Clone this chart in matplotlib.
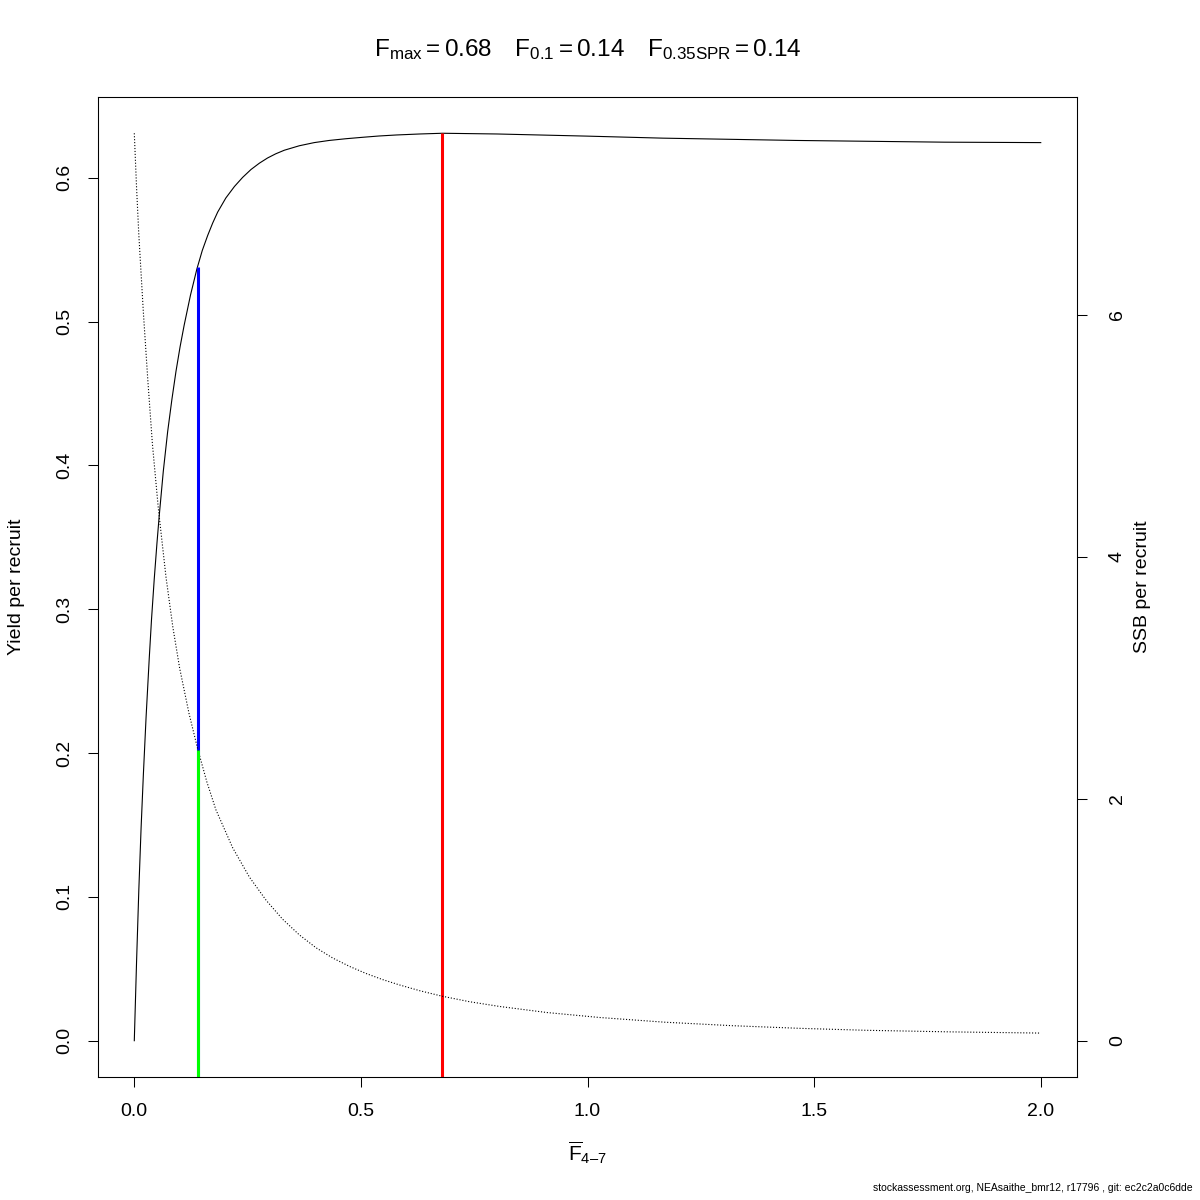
import numpy as np
import matplotlib
matplotlib.use("Agg")
import matplotlib.pyplot as plt

plt.rcParams['font.family'] = ['Liberation Sans', 'DejaVu Sans']
plt.rcParams['mathtext.fontset'] = 'custom'
plt.rcParams['mathtext.rm'] = 'Liberation Sans'
plt.rcParams['mathtext.it'] = 'Liberation Sans:italic'

# yield per recruit curve
f_ypr = [0.000, 0.005, 0.010, 0.015, 0.020, 0.026, 0.033, 0.038, 0.044, 0.050,
         0.055, 0.064, 0.0736, 0.083, 0.092, 0.101, 0.110, 0.124, 0.138, 0.150,
         0.162, 0.173, 0.184, 0.202, 0.221, 0.239, 0.2575, 0.276, 0.294, 0.312,
         0.331, 0.364, 0.397, 0.430, 0.467, 0.504, 0.540, 0.578, 0.630, 0.680,
         0.800, 1.000, 1.166, 1.460, 1.788, 2.000]
ypr = [0.000, 0.055, 0.105, 0.148, 0.185, 0.225, 0.266, 0.293, 0.321, 0.346,
       0.365, 0.396, 0.4235, 0.446, 0.4655, 0.4825, 0.4975, 0.5185, 0.5365, 0.5495,
       0.5600, 0.5686, 0.5762, 0.5860, 0.5940, 0.6003, 0.6058, 0.6102, 0.6138, 0.6167,
       0.6192, 0.6223, 0.6245, 0.6260, 0.6272, 0.6282, 0.6291, 0.6298, 0.6305, 0.6310,
       0.6305, 0.6290, 0.6276, 0.6260, 0.6248, 0.6245]

# SSB per recruit curve
f_spr = [0.000, 0.005, 0.010, 0.020, 0.030, 0.040, 0.053, 0.070, 0.085, 0.100,
         0.121, 0.140, 0.160, 0.180, 0.217, 0.254, 0.291, 0.327, 0.364, 0.401,
         0.438, 0.475, 0.511, 0.548, 0.585, 0.630, 0.679, 0.740, 0.806, 0.910,
         1.026, 1.170, 1.320, 1.470, 1.615, 1.800, 2.000]
spr = [7.50, 7.05, 6.66, 6.02, 5.45, 4.93, 4.40, 3.83, 3.42, 3.08,
       2.70, 2.41, 2.14, 1.909, 1.595, 1.352, 1.160, 1.005, 0.875, 0.768,
       0.683, 0.614, 0.556, 0.505, 0.461, 0.413, 0.368, 0.322, 0.283, 0.233,
       0.192, 0.153, 0.124, 0.102, 0.086, 0.073, 0.063]

# reference points
fmax, ypr_fmax = 0.68, 0.631
f01, ypr_f01 = 0.14, 0.538
f35, spr_f35 = 0.14, 2.40

title = (r"$\mathrm{F_{max}=0.68}\quad\,\mathrm{F_{0.1}=0.14}\quad\,"
         r"\mathrm{F_{0.35SPR}=0.14}$")
footer = "stockassessment.org, NEAsaithe_bmr12, r17796 , git: ec2c2a0c6dde"


def r_lim(v):
    lo, hi = min(v), max(v)
    pad = 0.04 * (hi - lo)
    return lo - pad, hi + pad


fig = plt.figure(figsize=(12, 12), dpi=100)
ax = fig.add_axes([0.0817, 0.1025, 0.8158, 0.8167])
ax.plot(f_ypr, ypr, color='black', lw=0.8)
ax.set_xlim(*r_lim(f_ypr))
ax.set_ylim(*r_lim(ypr))
ax.set_xticks([0.0, 0.5, 1.0, 1.5, 2.0])
ax.set_xticklabels(['0.0', '0.5', '1.0', '1.5', '2.0'])
ax.set_yticks([0.0, 0.1, 0.2, 0.3, 0.4, 0.5, 0.6])
ax.set_yticklabels(['0.0', '0.1', '0.2', '0.3', '0.4', '0.5', '0.6'],
                   rotation=90, va='center')
ax.tick_params(labelsize=14, length=7, width=0.75)
ax.tick_params(axis='x', pad=12)
ax.tick_params(axis='y', pad=11)
ax.set_xlabel("$\\overline{\\mathrm{F}}_{\\mathrm{4\u20137}}$", fontsize=15, labelpad=14)
ax.set_ylabel("Yield per recruit", fontsize=14, labelpad=22)

ybot = ax.get_ylim()[0]
ax.vlines(fmax, ybot, ypr_fmax, color='#FF0000', lw=2.2)
ax.vlines(f01, ybot, ypr_f01, color='#0000FF', lw=2.2)

ax2 = ax.twinx()
ax2.plot(f_spr, spr, color='black', lw=0.8, ls=':')
ax2.set_ylim(*r_lim([0] + spr))
ax2.set_yticks([0, 2, 4, 6])
ax2.set_yticklabels(['0', '2', '4', '6'], rotation=90, va='center')
ax2.tick_params(labelsize=14, length=7, width=0.75, pad=16)
ax2.set_ylabel("SSB per recruit", fontsize=14, labelpad=6)
ax2.vlines(f35, ax2.get_ylim()[0], spr_f35, color='#00FF00', lw=2.2)

for a in (ax, ax2):
    for s in a.spines.values():
        s.set_linewidth(0.75)

fig.text(0.49, 0.959, title, ha='center', va='center', fontsize=17.5)
fig.text(0.994, 0.006, footer, ha='right', va='bottom', fontsize=7.5)

fig.savefig('out.png', dpi=100)
